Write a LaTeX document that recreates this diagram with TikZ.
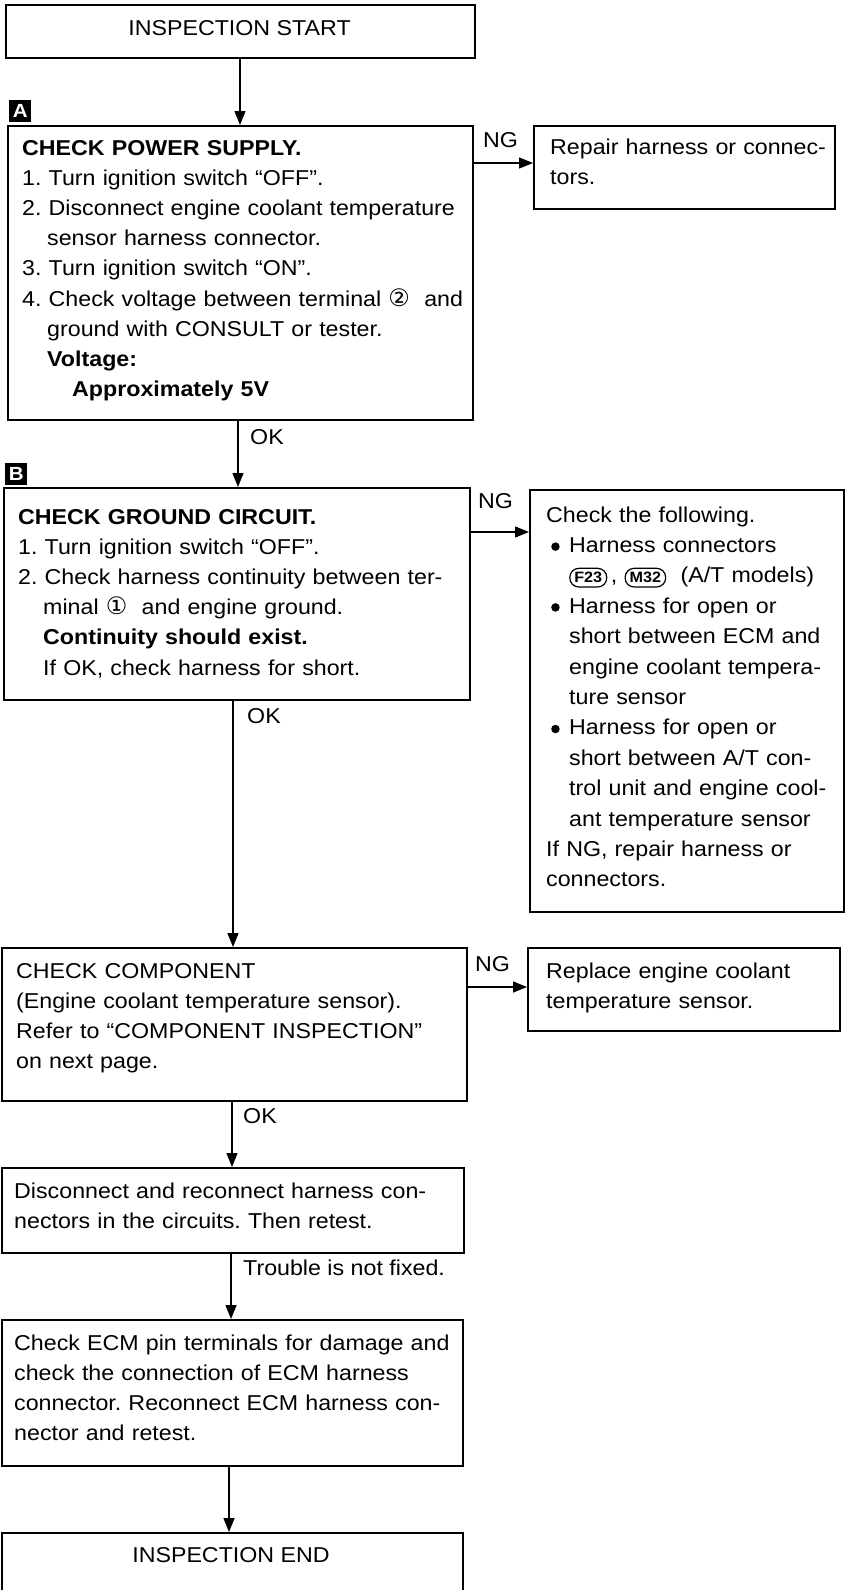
\documentclass[tikz,border=0pt]{standalone}
\usepackage{fontspec}
\setmainfont{Liberation Sans}[FakeStretch=1.08]
\newfontfamily\symfont{DejaVu Sans}
\usetikzlibrary{arrows.meta}
\frenchspacing

% circled terminal number
\newcommand\cnum[1]{{\symfont\fontsize{24pt}{24pt}\selectfont #1}}
% round bullet with hanging indent
\newcommand\dotmark{\tikz[baseline={([yshift=-5.8pt]bd.center)}]\node[circle,fill=black,inner sep=0pt,minimum size=8.5pt] (bd) {};}
\newcommand\bulletmark{\hspace*{5pt}\makebox[18pt][l]{\dotmark}}
\newcommand\hang{\hspace*{23pt}}
% connector symbol
\newcommand\connbox[1]{\tikz[baseline=(cb.base)]\node[draw,line width=1.2pt,rounded corners=9pt,
  inner xsep=4.5pt,inner ysep=4pt,font=\fontsize{15pt}{15pt}\selectfont\bfseries] (cb) {#1};}

\tikzset{
  box/.style={draw,line width=1.6pt,anchor=north west,inner sep=0pt},
  txt/.style={anchor=base west,inner sep=0pt,text width=520pt,align=left,
    font=\fontsize{21.5pt}{30.2pt}\selectfont},
  lbl/.style={anchor=base west,inner sep=0pt,font=\fontsize{21.5pt}{26pt}\selectfont},
  ctr/.style={anchor=base,inner sep=0pt,font=\fontsize{21.5pt}{26pt}\selectfont},
  marker/.style={fill=black,anchor=north west,inner sep=0pt,minimum width=22pt,minimum height=22pt,
    text=white,font=\fontsize{19pt}{19pt}\selectfont\bfseries},
  arr/.style={line width=1.4pt,-{Triangle[length=14pt,width=11pt]}}
}

\begin{document}
\begin{tikzpicture}[x=1pt,y=-1pt]
\useasboundingbox (0,0) rectangle (849,1590);
\fill[white] (0,0) rectangle (849,1590);
\clip (0,0) rectangle (849,1590);

% ---- start ----
\node[box,minimum width=469pt,minimum height=53pt] (start) at (5,4) {};
\node[ctr] (starttxt) at (239.5,35) {INSPECTION START};

% ---- step A: power supply ----
\node[marker] (markA) at (9,100) {A};
\node[box,minimum width=465pt,minimum height=294pt] (boxA) at (7,125) {};
\node[txt] (boxAtxt) at (22,155) {%
\textbf{CHECK POWER SUPPLY.}\\
1. Turn ignition switch “OFF”.\\
2. Disconnect engine coolant temperature\\
\hspace*{25pt}sensor harness connector.\\
3. Turn ignition switch “ON”.\\
4. Check voltage between terminal \cnum{②}\ \ and\\
\hspace*{25pt}ground with CONSULT or tester.\\
\hspace*{25pt}\textbf{Voltage:}\\
\hspace*{50pt}\textbf{Approximately 5V}};

\node[box,minimum width=301pt,minimum height=83pt] (repair) at (533,125) {};
\node[txt] (repairtxt) at (550,154) {Repair harness or connec-\\tors.};

\node[lbl] (ngA) at (483,147) {NG};
\coordinate (yA) at (0,163);
\draw[arr] (boxA.east |- yA) -- (repair.west |- yA);

\coordinate (xSA) at (240,0);
\draw[arr] (start.south -| xSA) -- (boxA.north -| xSA);

% ---- step B: ground circuit ----
\node[lbl] (okA) at (250,444) {OK};
\node[marker] (markB) at (5,463) {B};
\node[box,minimum width=466pt,minimum height=212pt] (boxB) at (3,487) {};
\coordinate (xAB) at (238,0);
\draw[arr] (boxA.south -| xAB) -- (boxB.north -| xAB);

\node[txt] (boxBtxt) at (18,524) {%
\textbf{CHECK GROUND CIRCUIT.}\\
1. Turn ignition switch “OFF”.\\
2. Check harness continuity between ter-\\
\hspace*{25pt}minal \cnum{①}\ \ and engine ground.\\
\hspace*{25pt}\textbf{Continuity should exist.}\\
\hspace*{25pt}If OK, check harness for short.};

\node[box,minimum width=314pt,minimum height=422pt] (check) at (529,489) {};
\node[txt,font=\fontsize{21.5pt}{30.4pt}\selectfont] (checktxt) at (546,522) {%
Check the following.\\
\bulletmark Harness connectors\\
\hang\connbox{F23}\,, \connbox{M32}\ \ (A/T models)\\
\bulletmark Harness for open or\\
\hang short between ECM and\\
\hang engine coolant tempera-\\
\hang ture sensor\\
\bulletmark Harness for open or\\
\hang short between A/T con-\\
\hang trol unit and engine cool-\\
\hang ant temperature sensor\\
If NG, repair harness or\\
connectors.};

\node[lbl] (ngB) at (478,508) {NG};
\coordinate (yB) at (0,532);
\draw[arr] (boxB.east |- yB) -- (check.west |- yB);

% ---- component check ----
\node[lbl] (okB) at (247,723) {OK};
\node[box,minimum width=465pt,minimum height=153pt] (comp) at (1,947) {};
\coordinate (xBC) at (233,0);
\draw[arr] (boxB.south -| xBC) -- (comp.north -| xBC);
\node[txt] (comptxt) at (16,978) {%
CHECK COMPONENT\\
(Engine coolant temperature sensor).\\
Refer to “COMPONENT INSPECTION”\\
on next page.};

\node[box,minimum width=312pt,minimum height=83pt] (replace) at (527,947) {};
\node[txt] (replacetxt) at (546,978) {Replace engine coolant\\temperature sensor.};
\node[lbl] (ngC) at (475,971) {NG};
\coordinate (yC) at (0,987);
\draw[arr] (comp.east |- yC) -- (replace.west |- yC);

% ---- reconnect and retest ----
\node[lbl] (okC) at (243,1123) {OK};
\node[box,minimum width=462pt,minimum height=85pt] (disc) at (1,1167) {};
\coordinate (xCD) at (232,0);
\draw[arr] (comp.south -| xCD) -- (disc.north -| xCD);
\node[txt] (disctxt) at (14,1198) {%
Disconnect and reconnect harness con-\\
nectors in the circuits. Then retest.};

\node[lbl] (trouble) at (243,1275) {Trouble is not fixed.};
\node[box,minimum width=461pt,minimum height=146pt] (ecm) at (1,1319) {};
\coordinate (xDE) at (231,0);
\draw[arr] (disc.south -| xDE) -- (ecm.north -| xDE);
\node[txt] (ecmtxt) at (14,1350) {%
Check ECM pin terminals for damage and\\
check the connection of ECM harness\\
connector. Reconnect ECM harness con-\\
nector and retest.};

% ---- end ----
\node[box,minimum width=461pt,minimum height=80pt] (finish) at (1,1532) {};
\coordinate (xEF) at (229,0);
\draw[arr] (ecm.south -| xEF) -- (finish.north -| xEF);
\node[ctr] (finishtxt) at (231,1562) {INSPECTION END};
\end{tikzpicture}
\end{document}
